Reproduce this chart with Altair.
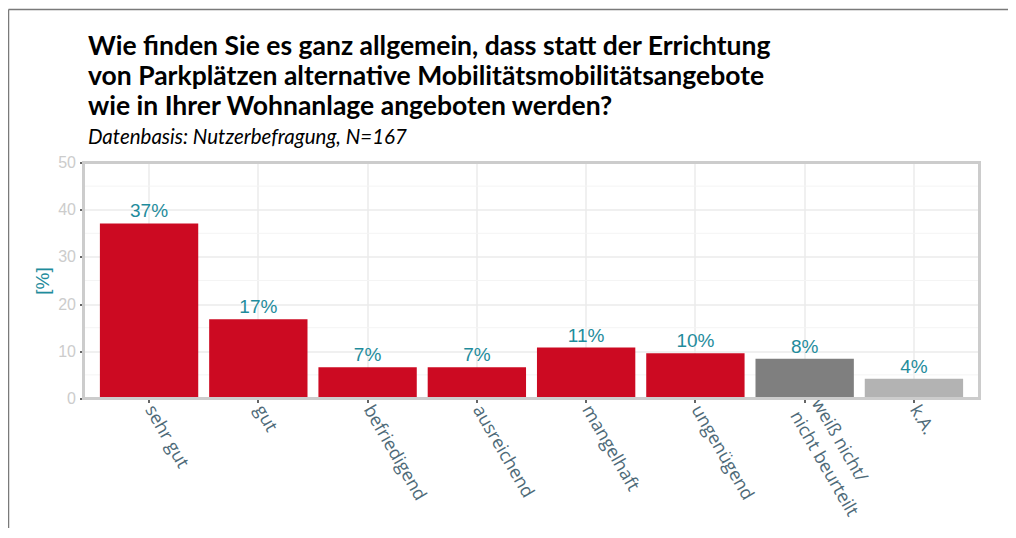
import altair as alt
import pandas as pd

categories = ["sehr gut", "gut", "befriedigend", "ausreichend", "mangelhaft",
              "ungenügend", "weiß nicht/\nnicht beurteilt", "k.A."]
values = [37.1, 16.8, 6.6, 6.6, 10.8, 9.6, 8.4, 4.2]
labels = ["37%", "17%", "7%", "7%", "11%", "10%", "8%", "4%"]
groups = ["a", "a", "a", "a", "a", "a", "b", "c"]
group_colors = ["#cc0a22", "#7f7f7f", "#b3b3b3"]
major_ticks = [0, 10, 20, 30, 40, 50]
minor_ticks = [5, 15, 25, 35, 45]

title_lines = ["Wie finden Sie es ganz allgemein, dass statt der Errichtung",
               "von Parkplätzen alternative Mobilitätsmobilitätsangebote",
               "wie in Ihrer Wohnanlage angeboten werden?"]
subtitle = "Datenbasis: Nutzerbefragung, N=167"

df = pd.DataFrame({"cat": categories, "val": values, "lab": labels, "grp": groups})
minor_df = pd.DataFrame({"val": minor_ticks})
one = pd.DataFrame({"k": [0]})

W, H = 896, 236
TEAL = "#1f8c9c"

xscale = alt.Scale(domain=categories, paddingInner=0.1, paddingOuter=0.15)
yscale = alt.Scale(domain=[0, 50], nice=False, zero=True)

yaxis = alt.Axis(values=major_ticks, title="[%]", titleColor=TEAL,
                 titleFont="Liberation Sans", titleFontSize=19, titleFontWeight="normal",
                 titlePadding=5,
                 labelFont="Liberation Sans", labelFontSize=16, labelColor="#cccccc",
                 labelPadding=4,
                 grid=True, gridColor="#ebebeb", gridWidth=1.5,
                 ticks=True, tickSize=4, tickColor="#333333", tickWidth=1.5,
                 domain=False)

multi_test = "indexof(datum.label, '\\n') >= 0"

base = alt.Chart(df)

minor = alt.Chart(minor_df).mark_rule(color="#f4f4f4", strokeWidth=1).encode(
    y=alt.Y("val:Q", scale=yscale, axis=yaxis))

bars = base.mark_bar().encode(
    x=alt.X("cat:N", scale=xscale, sort=categories,
            axis=alt.Axis(title=None, labelAngle=60, labelAlign="left", labelBaseline="middle",
                          labelExpr="split(datum.label, '\\n')",
                          labelFont="Open Sans", labelFontSize=18, labelColor="#4e6a78",
                          labelPadding={"condition": {"test": multi_test, "value": -2.5},
                                        "value": 4},
                          labelOffset={"condition": {"test": multi_test, "value": 11},
                                       "value": 0},
                          labelLineHeight=25,
                          grid=True, gridColor="#ebebeb", gridWidth=1.5,
                          ticks=True, tickSize=4, tickColor="#333333", tickWidth=1.5,
                          domain=False)),
    y=alt.Y("val:Q", scale=yscale, axis=yaxis),
    color=alt.Color("grp:N", scale=alt.Scale(domain=["a", "b", "c"], range=group_colors),
                    legend=None),
)

text = base.mark_text(baseline="bottom", dy=-2, font="Liberation Sans", fontSize=19,
                      color=TEAL).encode(
    x=alt.X("cat:N", scale=xscale, sort=categories),
    y=alt.Y("val:Q", scale=yscale),
    text="lab:N",
)

border = alt.Chart(one).mark_rect(fill=None, stroke="#cccccc", strokeWidth=3).encode(
    x=alt.value(0), x2=alt.value(W), y=alt.value(0), y2=alt.value(H))

title = alt.Chart(one).mark_text(align="left", baseline="alphabetic", font="Lato",
                                 fontSize=26.5, fontWeight="bold", color="#000000",
                                 lineHeight=30).encode(
    x=alt.value(4.5), y=alt.value(-108), text=alt.value(title_lines))
sub = alt.Chart(one).mark_text(align="left", baseline="alphabetic", font="Lato",
                               fontSize=20.5, fontStyle="italic", color="#000000").encode(
    x=alt.value(4.5), y=alt.value(-19), text=alt.value(subtitle))

frame_top = alt.Chart(one).mark_rule(color="#7a7a7a", strokeWidth=1.5).encode(
    x=alt.value(-75), x2=alt.value(925), y=alt.value(-153))
frame_left = alt.Chart(one).mark_rule(color="#7a7a7a", strokeWidth=1.5).encode(
    x=alt.value(-75), y=alt.value(-153), y2=alt.value(370))

chart = alt.layer(minor, bars, text, border, title, sub, frame_top, frame_left).properties(
    width=W, height=H,
    autosize=alt.AutoSizeParams(type="none"),
    padding={"left": 75.5, "right": 28.5, "top": 154.5, "bottom": 129.5},
).configure_view(stroke=None).configure(background="white")

chart.save("out.html", embed_options={"renderer": "svg", "actions": False})
